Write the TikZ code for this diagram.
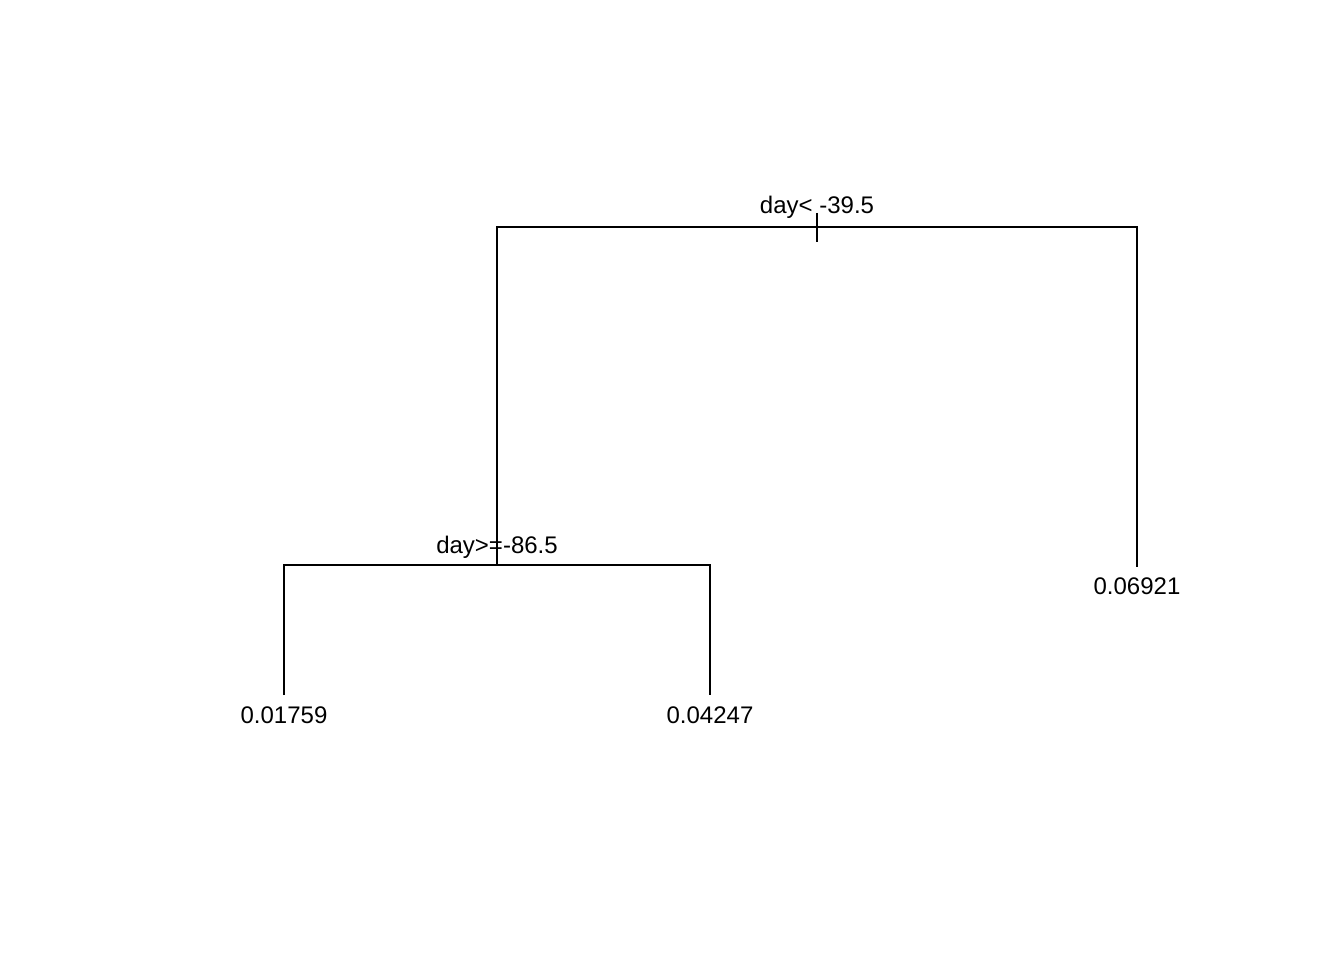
\documentclass[tikz,border=0pt]{standalone}
\usepackage{fontspec}
\setmainfont{Liberation Sans}
\begin{document}
\begin{tikzpicture}[x=1pt,y=-1pt,
  edge/.style={line width=2pt,line cap=butt},
  lbl/.style={inner sep=0pt,anchor=base,font=\fontsize{24}{28}\selectfont}]
\useasboundingbox (0,0) rectangle (1344,960);
% tree nodes
\coordinate (root) at (817,227);
\coordinate (rootL) at (497,227);
\coordinate (rootR) at (1137,227);
\coordinate (n2) at (497,565);
\coordinate (n2L) at (284,565);
\coordinate (n2R) at (710,565);
\coordinate (leafA) at (284,695);
\coordinate (leafB) at (710,695);
\coordinate (leafC) at (1137,567);
\coordinate (tickT) at (817,213);
\coordinate (tickB) at (817,242);
% edges
\draw[edge] (n2) -- (rootL) -- (rootR) -- (leafC);
\draw[edge] (tickT) -- (tickB);
\draw[edge] (leafA) -- (n2L) -- (n2R) -- (leafB);
% labels
\node[lbl] (s1) at (817,214) {day<\ -39.5};
\node[lbl] (s2) at (497,553) {day>=-86.5};
\node[lbl] (l1) at (284,723) {0.01759};
\node[lbl] (l2) at (710,723) {0.04247};
\node[lbl] (l3) at (1137,594) {0.06921};
\end{tikzpicture}
\end{document}
